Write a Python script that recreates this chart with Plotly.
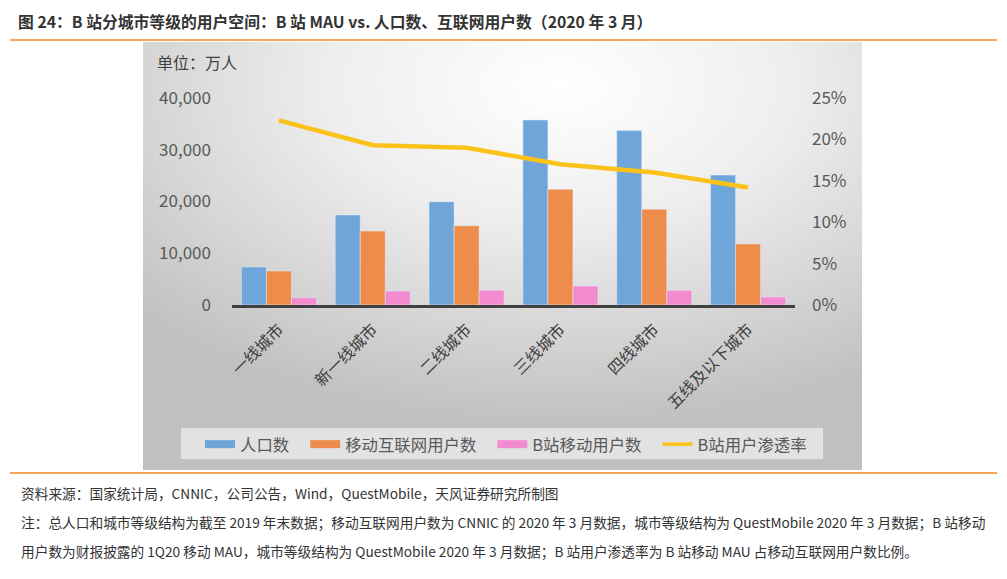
import plotly.graph_objects as go
import urllib.parse

categories = ["一线城市", "新一线城市", "二线城市", "三线城市", "四线城市", "五线及以下城市"]
population = [7350, 17400, 19950, 35750, 33700, 25100]
mobile_users = [6570, 14300, 15300, 22350, 18500, 11800]
bili_users = [1410, 2700, 2850, 3670, 2840, 1550]
penetration = [0.223, 0.193, 0.190, 0.170, 0.160, 0.142]

left_ticks = [0, 10000, 20000, 30000, 40000]
right_ticks = [0, 0.05, 0.10, 0.15, 0.20, 0.25]

BLUE = "#6FA6DA"
ORANGE = "#EE8D4B"
PINK = "#F28BCF"
YELLOW = "#FBC21A"
FONT = "Noto Sans CJK SC"

OFF = 8                      # page body margin
W, H = 1007 - 2 * OFF, 579 - 2 * OFF
# plot area in reference pixel coordinates
L, R, T, B = 232, 795, 98, 305

fig = go.Figure()

fig.add_trace(go.Bar(x=categories, y=population, name="人口数", marker_color=BLUE, showlegend=False))
fig.add_trace(go.Bar(x=categories, y=mobile_users, name="移动互联网用户数", marker_color=ORANGE, showlegend=False))
fig.add_trace(go.Bar(x=categories, y=bili_users, name="B站移动用户数", marker_color=PINK, showlegend=False))
fig.add_trace(go.Scatter(x=categories, y=penetration, name="B站用户渗透率", mode="lines",
                         line=dict(color=YELLOW, width=4.5), yaxis="y2", showlegend=False))

# legend entries (wide swatches like the reference)
PAD = "\u00a0" * 3
for nm, col, w in [("人口数", BLUE, 8), ("移动互联网用户数", ORANGE, 8),
                   ("B站移动用户数", PINK, 8), ("B站用户渗透率", YELLOW, 3.5)]:
    fig.add_trace(go.Scatter(x=[None], y=[None], mode="lines", name=nm + PAD,
                             line=dict(color=col, width=w), showlegend=True))

# gradient background via svg
svg = ('<svg xmlns="http://www.w3.org/2000/svg" width="100" height="100" viewBox="0 0 100 100" '
       'preserveAspectRatio="none"><defs><radialGradient id="g" cx="0.58" cy="0.1" r="0.8">'
       '<stop offset="0" stop-color="#ffffff"/><stop offset="0.4" stop-color="#eeeeee"/>'
       '<stop offset="1" stop-color="#c0c0c0"/></radialGradient></defs>'
       '<rect x="0" y="0" width="100" height="100" fill="url(#g)"/></svg>')
src = "data:image/svg+xml;charset=utf-8," + urllib.parse.quote(svg)

pw, ph = R - L, B - T
def px_x(v): return (v - L) / pw
def px_y(v): return (B - v) / ph

fig.add_layout_image(dict(source=src, xref="paper", yref="paper",
                          x=px_x(143), y=px_y(42), sizex=(862 - 143) / pw, sizey=(470 - 42) / ph,
                          sizing="stretch", xanchor="left", yanchor="top", layer="below"))

# legend background box
fig.add_shape(type="rect", xref="paper", yref="paper", layer="below",
              x0=px_x(181), x1=px_x(823), y0=px_y(428), y1=px_y(459),
              fillcolor="rgba(238,238,238,0.75)", line=dict(width=0))

fig.update_layout(
    width=W, height=H,
    margin=dict(l=L - OFF, r=W - (R - OFF), t=T - OFF, b=H - (B - OFF), pad=0),
    paper_bgcolor="white", plot_bgcolor="rgba(0,0,0,0)",
    barmode="group", bargap=0.2, bargroupgap=0.0,
    font=dict(family=FONT, color="#595959", size=16),
    xaxis=dict(showgrid=False, showline=True, linecolor="#404040", linewidth=2.5,
               tickangle=-45, ticks="", tickfont=dict(size=16, color="#404040"),
               ticklabelstandoff=6, zeroline=False),
    yaxis=dict(range=[0, 40000], tickvals=left_ticks, tickformat=",", showgrid=False,
               zeroline=False, showline=False, ticks="", ticklabelstandoff=20,
               tickfont=dict(size=17, color="#595959")),
    yaxis2=dict(range=[0, 0.25], tickvals=right_ticks, tickformat=".0%", overlaying="y",
                side="right", showgrid=False, zeroline=False, showline=False, ticks="",
                ticklabelstandoff=16, tickfont=dict(size=17, color="#595959")),
    legend=dict(orientation="h", x=px_x(200), y=px_y(427), xanchor="left", yanchor="top",
                bgcolor="rgba(0,0,0,0)", font=dict(size=16.4, color="#595959"),
                itemwidth=30, tracegroupgap=0),
    showlegend=True,
)

# title, unit, footers
fig.add_annotation(xref="paper", yref="paper", x=px_x(16), y=px_y(22), xanchor="left", yanchor="middle",
                   text="<b>图 24：B 站分城市等级的用户空间：B 站 MAU vs. 人口数、互联网用户数（2020 年 3 月）</b>",
                   showarrow=False, font=dict(size=15.8, color="#333333", family=FONT))
fig.add_annotation(xref="paper", yref="paper", x=px_x(155), y=px_y(62), xanchor="left", yanchor="middle",
                   text="单位：万人", showarrow=False, font=dict(size=16, color="#404040", family=FONT))
foot = [
    (493, "资料来源：国家统计局，CNNIC，公司公告，Wind，QuestMobile，天风证券研究所制图"),
    (522, "注：总人口和城市等级结构为截至 2019 年末数据；移动互联网用户数为 CNNIC 的 2020 年 3 月数据，城市等级结构为 QuestMobile 2020 年 3 月数据；B 站移动"),
    (551, "用户数为财报披露的 1Q20 移动 MAU，城市等级结构为 QuestMobile 2020 年 3 月数据；B 站用户渗透率为 B 站移动 MAU 占移动互联网用户数比例。"),
]
for yy, t in foot:
    fig.add_annotation(xref="paper", yref="paper", x=px_x(19), y=px_y(yy), xanchor="left", yanchor="middle",
                       text=t, showarrow=False, font=dict(size=13.7, color="#333333", family=FONT))

for yy in (40, 473):
    fig.add_shape(type="line", xref="paper", yref="paper", x0=px_x(10), x1=px_x(997),
                  y0=px_y(yy), y1=px_y(yy), line=dict(color="#F08A1C", width=1.5))

fig.write_html("out.html")
